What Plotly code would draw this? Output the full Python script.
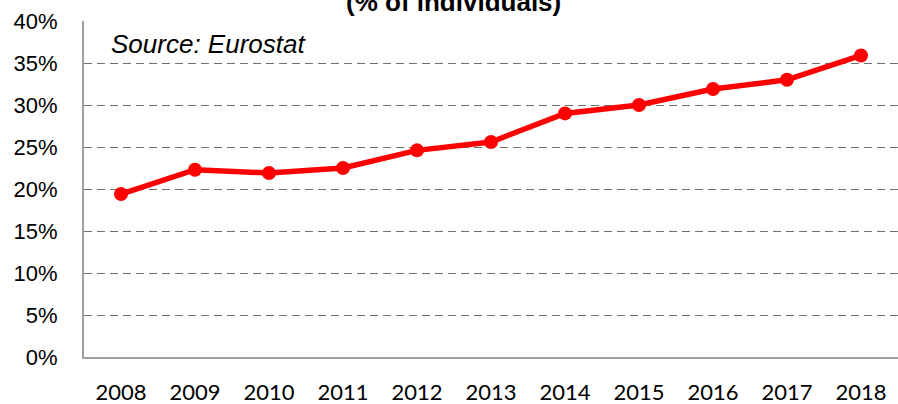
import plotly.graph_objects as go

years = ["2008", "2009", "2010", "2011", "2012", "2013", "2014", "2015", "2016", "2017", "2018"]
values = [19.4, 22.3, 21.9, 22.5, 24.6, 25.6, 29.0, 30.0, 31.9, 33.0, 35.9]
y_ticks = [0, 5, 10, 15, 20, 25, 30, 35, 40]
y_tick_labels = [f"{v}%" for v in y_ticks]

fig = go.Figure()
fig.add_trace(go.Scatter(
    x=years, y=values, mode="lines+markers",
    line=dict(color="#FF0000", width=5.5),
    marker=dict(color="#FF0000", size=14),
    showlegend=False,
))

fig.update_layout(
    width=898, height=404,
    margin=dict(l=84, r=0, t=21, b=47),
    plot_bgcolor="white", paper_bgcolor="white",
    xaxis=dict(
        type="category", range=[-0.5, 10.5], automargin=False,
        showgrid=False, showline=True, linecolor="#A0A0A0", linewidth=2,
        ticks="", ticklabelstandoff=15,
        tickfont=dict(family="Lato, Carlito, Arial", size=22, color="#000000"),
    ),
    yaxis=dict(
        range=[0, 40], tickvals=y_ticks, ticktext=y_tick_labels, automargin=False,
        showgrid=True, gridcolor="#707070", griddash="8px,5px", gridwidth=1.3,
        showline=True, linecolor="#A0A0A0", linewidth=2,
        zeroline=False, ticks="", ticklabelstandoff=20,
        tickfont=dict(family="Liberation Sans, Arial", size=22, color="#000000"),
    ),
    annotations=[
        dict(text="<b>(% of individuals)</b>",
             xref="paper", yref="paper", x=(453 - 84) / 814, y=1, yshift=19,
             xanchor="center", yanchor="middle", showarrow=False,
             font=dict(family="Liberation Sans, Arial", size=26, color="#000000")),
        dict(text="<i>Source: Eurostat</i>",
             xref="paper", yref="paper", x=(109 - 84) / 814, y=(357 - 44) / 336,
             xanchor="left", yanchor="middle", showarrow=False,
             font=dict(family="Liberation Sans, Arial", size=26, color="#000000")),
    ],
)

fig.write_html(
    "out.html",
    config={"displayModeBar": False},
    post_script="document.body.style.margin='0';document.body.style.padding='0';document.body.style.overflow='hidden';",
)
